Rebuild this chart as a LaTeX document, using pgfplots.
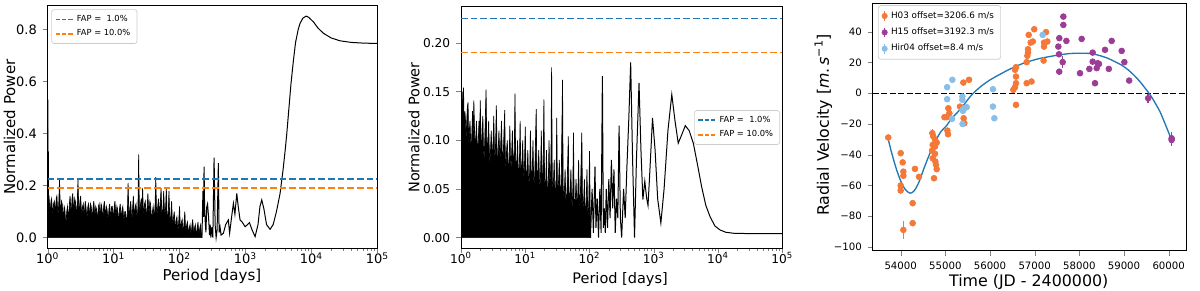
\documentclass[border=0pt]{standalone}
\usepackage{pgfplots}
\pgfplotsset{compat=1.18}
\usepackage{fontspec}
\setmainfont{DejaVu Sans}
\definecolor{cblue}{RGB}{31,119,180}
\definecolor{corange}{RGB}{255,127,14}
\definecolor{cHa}{RGB}{244,120,55}
\definecolor{cHb}{RGB}{155,60,150}
\definecolor{cHc}{RGB}{137,190,232}
\begin{document}
\begin{tikzpicture}
\useasboundingbox (0,0) rectangle (720pt,174pt);

% ---------------- Panel 1 ----------------
\begin{axis}[scale only axis, anchor=south west, at={(28.6pt,25pt)}, width=197.8pt, height=145.6pt,
  axis line style={line width=0.6pt},
  tick align=outside, tick pos=left,
  major tick length=3pt, minor tick length=1.8pt,
  xmode=log, xmin=1, xmax=100000,
  xtick={1,10,100,1000,10000,100000},
  xticklabels={10\textsuperscript{0},10\textsuperscript{1},10\textsuperscript{2},10\textsuperscript{3},10\textsuperscript{4},10\textsuperscript{5}},
  minor xtick={2,3,4,5,6,7,8,9,20,30,40,50,60,70,80,90,200,300,400,500,600,700,800,900,2000,3000,4000,5000,6000,7000,8000,9000,20000,30000,40000,50000,60000,70000,80000,90000},
  ymin=-0.041, ymax=0.891,
  ytick={0,0.2,0.4,0.6,0.8}, yticklabels={0.0,0.2,0.4,0.6,0.8},
  tick label style={font=\fontsize{7.8}{9}\selectfont},
  xticklabel style={inner sep=0.5pt, yshift=1.2pt},
  xlabel={Period [days]}, ylabel={Normalized Power},
  label style={font=\fontsize{9}{11}\selectfont},
  xlabel style={at={(axis description cs:0.498,-0.131)}, anchor=base},
  ylabel style={at={(axis description cs:-0.116,0.5)}, anchor=center},
  legend cell align=left,
  legend style={at={(axis description cs:0.011,0.985)}, anchor=north west,
    font=\fontsize{5}{6}\selectfont, draw=black!20, rounded corners=1.5pt,
    inner xsep=2pt, inner ysep=1.2pt, row sep=-0.5pt},
]
\addplot[fill=black, draw=black, line width=0.4pt, forget plot] table[x expr={10^\thisrow{lp}}, y=v] {
lp v
0.000 0.12
0.004 0.53
0.008 0.10
0.012 0.33
0.016 0.12
0.02 0.16
0.03 0.12
0.04 0.10
0.05 0.14
0.06 0.15
0.07 0.11
0.08 0.09
0.09 0.13
0.10 0.14
0.11 0.12
0.12 0.10
0.13 0.15
0.14 0.16
0.15 0.11
0.16 0.09
0.17 0.14
0.18 0.225
0.19 0.12
0.20 0.10
0.21 0.14
0.22 0.13
0.23 0.09
0.24 0.08
0.25 0.12
0.26 0.11
0.27 0.07
0.28 0.06
0.29 0.10
0.30 0.12
0.31 0.09
0.32 0.08
0.33 0.13
0.34 0.16
0.35 0.11
0.36 0.10
0.37 0.15
0.38 0.17
0.39 0.12
0.40 0.11
0.41 0.15
0.42 0.14
0.43 0.10
0.44 0.10
0.45 0.14
0.46 0.225
0.47 0.12
0.48 0.10
0.49 0.14
0.50 0.16
0.51 0.11
0.52 0.09
0.53 0.12
0.54 0.13
0.55 0.09
0.56 0.10
0.57 0.14
0.58 0.12
0.59 0.09
0.60 0.08
0.61 0.12
0.62 0.13
0.63 0.10
0.64 0.09
0.65 0.13
0.66 0.12
0.67 0.09
0.68 0.08
0.69 0.12
0.70 0.14
0.71 0.10
0.72 0.09
0.73 0.12
0.74 0.11
0.75 0.08
0.76 0.08
0.77 0.12
0.78 0.13
0.79 0.10
0.80 0.09
0.81 0.13
0.82 0.12
0.83 0.09
0.84 0.08
0.85 0.12
0.86 0.14
0.87 0.10
0.88 0.09
0.89 0.12
0.90 0.11
0.91 0.08
0.92 0.07
0.93 0.11
0.94 0.13
0.95 0.09
0.96 0.08
0.97 0.12
0.98 0.12
0.99 0.09
1.00 0.08
1.01 0.12
1.02 0.14
1.03 0.10
1.04 0.09
1.05 0.12
1.06 0.11
1.07 0.08
1.08 0.07
1.09 0.11
1.10 0.13
1.11 0.09
1.12 0.08
1.13 0.11
1.14 0.12
1.15 0.08
1.16 0.07
1.17 0.10
1.18 0.10
1.19 0.07
1.20 0.06
1.21 0.10
1.22 0.21
1.23 0.10
1.24 0.08
1.25 0.12
1.26 0.14
1.27 0.09
1.28 0.07
1.29 0.12
1.30 0.16
1.31 0.10
1.32 0.09
1.33 0.12
1.34 0.13
1.35 0.09
1.36 0.08
1.37 0.12
1.38 0.32
1.39 0.12
1.40 0.10
1.41 0.13
1.42 0.15
1.43 0.11
1.44 0.19
1.45 0.11
1.46 0.09
1.47 0.13
1.48 0.14
1.49 0.10
1.50 0.08
1.51 0.12
1.52 0.17
1.53 0.11
1.54 0.10
1.55 0.14
1.56 0.13
1.57 0.09
1.58 0.07
1.59 0.10
1.60 0.12
1.61 0.09
1.62 0.08
1.63 0.13
1.64 0.232
1.65 0.11
1.66 0.09
1.67 0.12
1.68 0.15
1.69 0.11
1.70 0.10
1.71 0.14
1.72 0.19
1.73 0.10
1.74 0.08
1.75 0.12
1.76 0.18
1.77 0.11
1.78 0.09
1.79 0.12
1.80 0.19
1.81 0.09
1.82 0.07
1.83 0.10
1.84 0.18
1.85 0.08
1.86 0.06
1.87 0.09
1.88 0.14
1.89 0.07
1.90 0.05
1.91 0.08
1.92 0.10
1.93 0.05
1.94 0.04
1.95 0.07
1.96 0.08
1.97 0.04
1.98 0.03
1.99 0.07
2.00 0.12
2.01 0.05
2.02 0.04
2.03 0.06
2.04 0.07
2.05 0.03
2.06 0.03
2.07 0.06
2.08 0.10
2.09 0.04
2.10 0.03
2.11 0.05
2.12 0.06
2.13 0.03
2.14 0.02
2.15 0.04
2.16 0.05
2.17 0.02
2.18 0.02
2.19 0.05
2.20 0.07
2.21 0.03
2.22 0.02
2.23 0.04
2.24 0.05
2.25 0.02
2.26 0.01
2.27 0.04
2.28 0.06
2.29 0.02
2.30 0.02
2.31 0.04
2.32 0.05
2.33 0.02
2.34 0.00
} \closedcycle;
\addplot[black, line width=0.6pt, forget plot] table[x expr={10^\thisrow{lp}}, y=v] {
lp v
2.340 0.00
2.355 0.18
2.365 0.08
2.372 0.273
2.38 0.12
2.39 0.06
2.40 0.02
2.413 0.119
2.425 0.13
2.44 0.08
2.455 0.01
2.465 0.05
2.475 0.00
2.49 0.04
2.505 0.00
2.524 0.307
2.54 0.05
2.555 0.00
2.57 0.03
2.589 0.286
2.60 0.02
2.615 0.04
2.63 0.01
2.665 0.017
2.70 0.05
2.74 0.068
2.76 0.017
2.79 0.08
2.817 0.132
2.84 0.09
2.868 0.17
2.89 0.12
2.918 0.068
2.95 0.06
2.994 0.042
3.03 0.05
3.06 0.058
3.10 0.03
3.146 0.004
3.19 0.05
3.22 0.12
3.247 0.145
3.28 0.11
3.32 0.05
3.373 0.032
3.42 0.05
3.47 0.10
3.525 0.17
3.57 0.26
3.60 0.33
3.627 0.40
3.66 0.50
3.69 0.59
3.727 0.68
3.76 0.75
3.80 0.80
3.828 0.823
3.87 0.843
3.92 0.851
3.96 0.846
4.03 0.829
4.10 0.805
4.182 0.785
4.30 0.767
4.435 0.756
4.60 0.750
4.80 0.747
5.00 0.746
};
\addplot[cblue, line width=0.9pt, dash pattern=on 4pt off 1.8pt,
  legend image code/.code={\draw[cblue, line width=0.9pt, dash pattern=on 2.6pt off 1.2pt] (0cm,0cm) -- (0.36cm,0cm);}]
  coordinates {(1,0.225) (100000,0.225)};
\addlegendentry{FAP =\ \ 1.0\%}
\addplot[corange, line width=0.9pt, dash pattern=on 4pt off 1.8pt,
  legend image code/.code={\draw[corange, line width=0.9pt, dash pattern=on 2.6pt off 1.2pt] (0cm,0cm) -- (0.36cm,0cm);}]
  coordinates {(1,0.19) (100000,0.19)};
\addlegendentry{FAP = 10.0\%}
\end{axis}

% ---------------- Panel 2 ----------------
\begin{axis}[scale only axis, anchor=south west, at={(276.6pt,25pt)}, width=192.8pt, height=145pt,
  axis line style={line width=0.6pt},
  tick align=outside, tick pos=left,
  major tick length=3pt, minor tick length=1.8pt,
  xmode=log, xmin=1, xmax=100000,
  xtick={1,10,100,1000,10000,100000},
  xticklabels={10\textsuperscript{0},10\textsuperscript{1},10\textsuperscript{2},10\textsuperscript{3},10\textsuperscript{4},10\textsuperscript{5}},
  minor xtick={2,3,4,5,6,7,8,9,20,30,40,50,60,70,80,90,200,300,400,500,600,700,800,900,2000,3000,4000,5000,6000,7000,8000,9000,20000,30000,40000,50000,60000,70000,80000,90000},
  ymin=-0.011, ymax=0.2373,
  ytick={0,0.05,0.1,0.15,0.2}, yticklabels={0.00,0.05,0.10,0.15,0.20},
  tick label style={font=\fontsize{7.3}{9}\selectfont},
  xticklabel style={inner sep=0.5pt, yshift=1.2pt},
  xlabel={Period [days]}, ylabel={Normalized Power},
  label style={font=\fontsize{8.7}{10}\selectfont},
  xlabel style={at={(axis description cs:0.495,-0.145)}, anchor=base},
  ylabel style={at={(axis description cs:-0.146,0.5)}, anchor=center},
  legend cell align=left,
  legend style={at={(axis description cs:0.993,0.5)}, anchor=east,
    font=\fontsize{5}{6}\selectfont, draw=black!20, rounded corners=1.5pt,
    inner xsep=2pt, inner ysep=1.2pt, row sep=-0.5pt},
]
\addplot[fill=black, draw=black, line width=0.4pt, forget plot] table[x expr={10^\thisrow{lp}}, y=v] {
lp v
0.00 0.12
0.004 0.176
0.01 0.10
0.02 0.15
0.03 0.11
0.04 0.154
0.05 0.09
0.06 0.13
0.07 0.12
0.08 0.10
0.09 0.12
0.10 0.135
0.11 0.139
0.12 0.09
0.13 0.11
0.14 0.12
0.15 0.10
0.16 0.085
0.17 0.11
0.18 0.13
0.19 0.10
0.20 0.141
0.21 0.11
0.22 0.09
0.23 0.10
0.24 0.12
0.25 0.10
0.26 0.08
0.27 0.10
0.28 0.12
0.29 0.10
0.30 0.141
0.31 0.10
0.32 0.09
0.33 0.11
0.34 0.125
0.35 0.09
0.36 0.08
0.37 0.10
0.39 0.152
0.40 0.10
0.41 0.09
0.42 0.10
0.43 0.12
0.44 0.09
0.45 0.075
0.46 0.09
0.47 0.11
0.48 0.09
0.49 0.08
0.50 0.10
0.51 0.125
0.52 0.09
0.53 0.08
0.54 0.10
0.55 0.136
0.56 0.09
0.57 0.07
0.58 0.09
0.59 0.11
0.60 0.09
0.61 0.08
0.62 0.10
0.63 0.12
0.64 0.09
0.65 0.075
0.66 0.09
0.68 0.131
0.69 0.08
0.70 0.07
0.71 0.09
0.72 0.10
0.73 0.08
0.74 0.06
0.75 0.08
0.76 0.115
0.77 0.08
0.78 0.07
0.79 0.09
0.80 0.11
0.81 0.08
0.82 0.075
0.83 0.09
0.84 0.148
0.85 0.08
0.86 0.07
0.87 0.08
0.88 0.10
0.89 0.07
0.90 0.06
0.91 0.08
0.92 0.12
0.93 0.07
0.94 0.065
0.95 0.08
0.96 0.10
0.97 0.07
0.98 0.06
0.99 0.08
1.00 0.114
1.01 0.07
1.02 0.06
1.03 0.07
1.04 0.09
1.05 0.06
1.06 0.055
1.07 0.07
1.08 0.11
1.09 0.07
1.10 0.06
1.11 0.07
1.12 0.10
1.13 0.06
1.14 0.055
1.15 0.07
1.17 0.132
1.18 0.07
1.19 0.06
1.20 0.07
1.21 0.09
1.22 0.06
1.23 0.05
1.24 0.07
1.25 0.11
1.26 0.06
1.27 0.06
1.28 0.08
1.29 0.142
1.30 0.06
1.31 0.05
1.32 0.06
1.33 0.09
1.34 0.05
1.35 0.045
1.36 0.06
1.37 0.10
1.38 0.06
1.39 0.06
1.40 0.08
1.41 0.175
1.42 0.06
1.43 0.05
1.44 0.06
1.45 0.08
1.46 0.05
1.47 0.04
1.48 0.06
1.49 0.123
1.50 0.05
1.51 0.05
1.52 0.06
1.53 0.08
1.54 0.05
1.55 0.04
1.56 0.06
1.58 0.162
1.59 0.05
1.60 0.04
1.61 0.05
1.62 0.07
1.63 0.04
1.64 0.035
1.65 0.05
1.67 0.104
1.68 0.04
1.69 0.04
1.70 0.05
1.71 0.07
1.72 0.04
1.73 0.03
1.74 0.05
1.75 0.108
1.76 0.04
1.77 0.035
1.78 0.04
1.79 0.06
1.80 0.04
1.81 0.03
1.82 0.05
1.83 0.08
1.84 0.04
1.85 0.03
1.86 0.05
1.88 0.108
1.89 0.04
1.90 0.03
1.91 0.04
1.92 0.06
1.93 0.03
1.94 0.02
1.95 0.04
1.96 0.07
1.97 0.03
1.98 0.02
1.99 0.04
2.00 0.089
2.01 0.03
2.02 0.01
} \closedcycle;
\addplot[black, line width=0.6pt, forget plot] table[x expr={10^\thisrow{lp}}, y=v] {
lp v
2.02 0.01
2.04 0.05
2.06 0.005
2.085 0.073
2.10 0.01
2.12 0.04
2.14 0.00
2.16 0.05
2.18 0.005
2.20 0.166
2.215 0.01
2.23 0.03
2.245 0.005
2.26 0.05
2.28 0.01
2.30 0.06
2.32 0.02
2.34 0.08
2.36 0.03
2.38 0.07
2.40 0.005
2.42 0.04
2.44 0.02
2.46 0.115
2.48 0.02
2.50 0.0
2.53 0.05
2.555 0.02
2.58 0.07
2.61 0.12
2.64 0.18
2.67 0.08
2.70 0.0
2.73 0.08
2.77 0.159
2.80 0.09
2.83 0.039
2.86 0.058
2.89 0.04
2.91 0.033
2.94 0.07
2.98 0.123
3.02 0.09
3.06 0.04
3.11 0.015
3.16 0.05
3.22 0.11
3.28 0.147
3.33 0.12
3.38 0.097
3.43 0.105
3.49 0.115
3.55 0.11
3.615 0.097
3.68 0.075
3.745 0.052
3.81 0.033
3.875 0.0216
3.95 0.012
4.03 0.0079
4.12 0.0055
4.24 0.0045
4.50 0.0041
5.00 0.004
};
\addplot[cblue, line width=0.9pt, dash pattern=on 4pt off 1.8pt,
  legend image code/.code={\draw[cblue, line width=0.9pt, dash pattern=on 2.6pt off 1.2pt] (0cm,0cm) -- (0.36cm,0cm);}]
  coordinates {(1,0.2253) (100000,0.2253)};
\addlegendentry{FAP =\ \ 1.0\%}
\addplot[corange, line width=0.9pt, dash pattern=on 4pt off 1.8pt,
  legend image code/.code={\draw[corange, line width=0.9pt, dash pattern=on 2.6pt off 1.2pt] (0cm,0cm) -- (0.36cm,0cm);}]
  coordinates {(1,0.19) (100000,0.19)};
\addlegendentry{FAP = 10.0\%}
\end{axis}

% ---------------- Panel 3 ----------------
\begin{axis}[scale only axis, anchor=south west, at={(523.6pt,23.6pt)}, width=188.4pt, height=148pt,
  axis line style={line width=0.6pt},
  tick align=outside, tick pos=left,
  major tick length=3pt,
  xmin=53373, xmax=60403, ymin=-102.4, ymax=58,
  xtick={54000,55000,56000,57000,58000,59000,60000},
  xticklabels={54000,55000,56000,57000,58000,59000,60000},
  ytick={-100,-80,-60,-40,-20,0,20,40},
  yticklabels={−100,−80,−60,−40,−20,0,20,40},
  scaled x ticks=false,
  tick label style={font=\fontsize{6.1}{7}\selectfont},
  xlabel={Time (JD - 2400000)}, ylabel={Radial Velocity [\textit{m}.\,\textit{s}\textsuperscript{−1}]},
  label style={font=\fontsize{9.5}{11}\selectfont},
  xlabel style={at={(axis description cs:0.497,-0.146)}, anchor=base},
  ylabel style={at={(axis description cs:-0.157,0.51)}, anchor=center},
  legend cell align=left,
  legend style={at={(axis description cs:0.017,0.995)}, anchor=north west,
    font=\fontsize{5.3}{6.3}\selectfont, draw=black!20, rounded corners=1.5pt,
    inner xsep=2pt, inner ysep=1.5pt, row sep=0.3pt},
]
\addplot[black, line width=0.8pt, dash pattern=on 3.5pt off 1.6pt, forget plot] coordinates {(53373,0) (60403,0)};
\addplot[only marks, mark=*, mark size=1.75pt, color=cHa,
  legend image code/.code={\draw[cHa, line width=0.8pt] (0.22cm,-0.1cm) -- (0.22cm,0.1cm); \fill[cHa] (0.22cm,0cm) circle (1.6pt);},
  error bars/.cd, y dir=both, y explicit, error mark=none, error bar style={line width=0.8pt, cHa}]
  table[x=t, y=v, y error=e] {
t v e
53722 -28.8 1
54000 -39.0 1
54045 -45.0 1
54060 -51.0 1
54060 -53.7 1
54000 -60.0 1
54000 -63.3 1
54060 -88.9 6
54268 -71.5 1
54268 -84.5 1
54320 -49.2 1
54410 -54.4 1
54709 -26.0 3
54731 -28.2 1
54769 -30.3 1
54716 -33.6 1
54769 -34.7 1
54806 -32.1 1
54702 -37.3 1
54769 -39.4 1
54716 -42.3 1
54776 -44.4 1
54791 -46.6 1
54806 -49.4 1
54746 -55.3 1
54980 -15.6 1
55030 -15.6 1
55067 -9.8 1
55090 -13.0 1
55045 -24.3 1
55060 -26.7 1
55328 -8.7 1
55410 -16.3 1
55425 -19.5 1
55403 6.9 1
55530 8.7 1
56522 2.2 1
56560 3.9 1
56582 6.5 1
56582 10.8 1
56560 15.2 1
56582 16.9 1
56582 -7.6 1
56821 20.2 1
56836 24.3 1
56851 26.4 1
56851 28.6 1
56866 37.9 1
56821 6.5 1
56930 7.6 1
56911 32.9 1
56960 33.6 1
56990 41.6 1
57200 21.2 1
57209 30.3 1
57209 32.9 1
57254 39.7 1
57284 33.6 1
};
\addlegendentry{H03 offset=3206.6 m/s}
\addplot[only marks, mark=*, mark size=1.75pt, color=cHb,
  legend image code/.code={\draw[cHb, line width=0.8pt] (0.22cm,-0.1cm) -- (0.22cm,0.1cm); \fill[cHb] (0.22cm,0cm) circle (1.6pt);},
  error bars/.cd, y dir=both, y explicit, error mark=none, error bar style={line width=0.8pt, cHb}]
  table[x=t, y=v, y error=e] {
t v e
57530 30.3 1
57544 25.3 1
57552 35.8 1
57642 49.8 1
57642 44.4 1
57710 34.0 1
57550 14.0 1
57627 20.2 4
58052 35.3 1
58015 13.0 1
58299 26.4 1
58298 20.5 1
58410 19.5 1
58440 19.0 1
58388 16.3 1
58224 15.8 1
58351 6.5 1
58575 28.2 1
58724 34.0 1
58660 15.8 1
58948 27.5 1
59008 20.2 1
59115 8.2 1
59540 -3.3 3
60066 -29.3 4
60066 -30.4 4
};
\addlegendentry{H15 offset=3192.3 m/s}
\addplot[only marks, mark=*, mark size=1.75pt, color=cHc,
  legend image code/.code={\draw[cHc, line width=0.8pt] (0.22cm,-0.1cm) -- (0.22cm,0.1cm); \fill[cHc] (0.22cm,0cm) circle (1.6pt);},
  error bars/.cd, y dir=both, y explicit, error mark=none, error bar style={line width=0.8pt, cHc}]
  table[x=t, y=v, y error=e] {
t v e
55040 3.9 1
55040 -3.9 1
55157 8.7 1
55150 -16.7 1
55381 -2.2 1
55381 -4.3 1
55385 -10.8 1
55425 -9.8 1
55478 -9.1 1
55385 -20.0 1
55395 -11.5 1
56065 2.6 1
56065 -8.7 1
56097 -16.3 1
57179 37.9 1
};
\addlegendentry{Hir04 offset=8.4 m/s}
\addplot[cblue, line width=0.8pt, smooth, forget plot] coordinates {
(53722,-30) (53800,-39) (53900,-49) (54000,-57) (54100,-62.5) (54208,-65)
(54300,-63.5) (54400,-58.5) (54507,-50) (54600,-43) (54700,-36) (54800,-30)
(54900,-25) (55030,-21) (55142,-16.3) (55270,-12.5) (55402,-8) (55520,-3.5)
(55626,0) (55800,4.5) (55999,8.6) (56300,13.5) (56559,17.2) (56800,20)
(57118,22.6) (57528,24.8) (57800,25.8) (58052,26) (58276,25.7) (58450,24.5)
(58612,23) (58800,20.5) (58960,18) (59100,15) (59230,11.5) (59357,7.5)
(59480,3) (59596,-1.5) (59700,-6.5) (59805,-12) (59900,-18.5) (59991,-25) (60066,-30.5)
};
\end{axis}
\end{tikzpicture}
\end{document}
